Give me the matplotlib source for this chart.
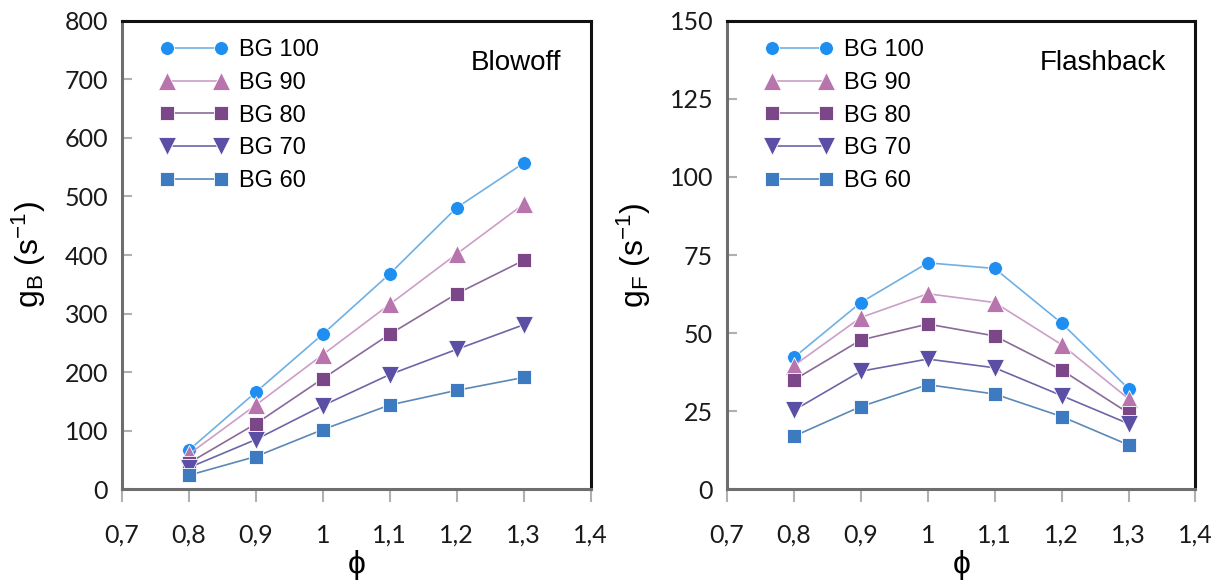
import matplotlib
matplotlib.use("Agg")
import matplotlib.pyplot as plt
from matplotlib.ticker import FuncFormatter

plt.rcParams["font.family"] = ["Liberation Sans", "DejaVu Sans"]
plt.rcParams["mathtext.fontset"] = "custom"
plt.rcParams["mathtext.rm"] = "Liberation Sans"
plt.rcParams["mathtext.it"] = "Liberation Sans:italic"

# equivalence ratio
phi = [0.8, 0.9, 1.0, 1.1, 1.2, 1.3]
series_names = ["BG 100", "BG 90", "BG 80", "BG 70", "BG 60"]

# blowoff strain rate g_B (1/s)
blowoff = {
    "BG 100": [67, 166, 265, 368, 481, 557],
    "BG 90": [60, 144, 230, 316, 402, 487],
    "BG 80": [45, 112, 189, 265, 334, 391],
    "BG 70": [37, 85, 143, 196, 239, 281],
    "BG 60": [24, 56, 102, 144, 169, 191],
}

# flashback strain rate g_F (1/s)
flashback = {
    "BG 100": [42.2, 59.8, 72.5, 70.7, 53.2, 32.2],
    "BG 90": [39.6, 55.0, 62.6, 59.8, 46.3, 29.0],
    "BG 80": [35.0, 47.8, 52.9, 49.1, 38.2, 24.4],
    "BG 70": [25.3, 37.8, 41.7, 38.9, 30.0, 21.0],
    "BG 60": [17.0, 26.5, 33.5, 30.5, 23.3, 14.2],
}

styles = {
    "BG 100": dict(marker="o", ms=10, mfc="#1e8ef0", line="#6fb0e4"),
    "BG 90": dict(marker="^", ms=13.5, mfc="#b874ac", line="#cc9ec8"),
    "BG 80": dict(marker="s", ms=10, mfc="#7b4788", line="#8a6a98"),
    "BG 70": dict(marker="v", ms=13.5, mfc="#5b4fa5", line="#6a66a8"),
    "BG 60": dict(marker="s", ms=10, mfc="#3d7abf", line="#5b88b6"),
}

fig = plt.figure(figsize=(12.22, 5.83), dpi=100)
ax_b = fig.add_axes([0.0998, 0.1607, 0.3836, 0.8037])
ax_f = fig.add_axes([0.5949, 0.1607, 0.3834, 0.8037])


def comma_fmt(x, pos):
    s = f"{x:.1f}".rstrip("0").rstrip(".")
    return s.replace(".", ",")


def style_axes(ax, values, ymax, ystep, ylabel, title):
    for name in series_names:
        st = styles[name]
        ax.plot(phi, values[name], color=st["line"], lw=1.2,
                marker=st["marker"], ms=st["ms"], mfc=st["mfc"],
                mec="white", mew=0.6, label=name)
    ax.set_xlim(0.7, 1.4)
    ax.set_ylim(0, ymax)
    ax.set_xticks([0.7, 0.8, 0.9, 1.0, 1.1, 1.2, 1.3, 1.4])
    ax.set_yticks(range(0, ymax + 1, ystep))
    ax.xaxis.set_major_formatter(FuncFormatter(comma_fmt))
    ax.tick_params(axis="x", direction="out", length=9, width=1.5,
                   color="#b0b0b0", pad=16, labelsize=18, labelcolor="#1a1a1a")
    ax.tick_params(axis="y", direction="in", length=7, width=1.5,
                   color="#b0b0b0", pad=10, labelsize=18, labelcolor="#1a1a1a")
    for lbl in ax.get_xticklabels() + ax.get_yticklabels():
        lbl.set_fontfamily(["Lato", "DejaVu Sans"])
    for side in ("left", "bottom"):
        ax.spines[side].set_color("#6e6e6e")
        ax.spines[side].set_linewidth(2.2)
    for side in ("top", "right"):
        ax.spines[side].set_color("#111111")
        ax.spines[side].set_linewidth(2.2)
    ax.set_xlabel("ϕ", fontsize=23, labelpad=2)
    ax.set_ylabel(ylabel, fontsize=23, labelpad=12)
    ax.text(0.937, 0.91, title, transform=ax.transAxes, ha="right",
            va="center", fontsize=20)
    ax.legend(loc="upper left", bbox_to_anchor=(0.081, 0.960), frameon=False,
              numpoints=2, handlelength=2.9, handletextpad=0.47,
              labelspacing=0.45, borderpad=0, borderaxespad=0, fontsize=17)


style_axes(ax_b, blowoff, 800, 100, r"g$_{\mathrm{B}}$ (s$^{-1}$)", "Blowoff")
style_axes(ax_f, flashback, 150, 25, r"g$_{\mathrm{F}}$ (s$^{-1}$)", "Flashback")

fig.savefig("out.png", dpi=100)
